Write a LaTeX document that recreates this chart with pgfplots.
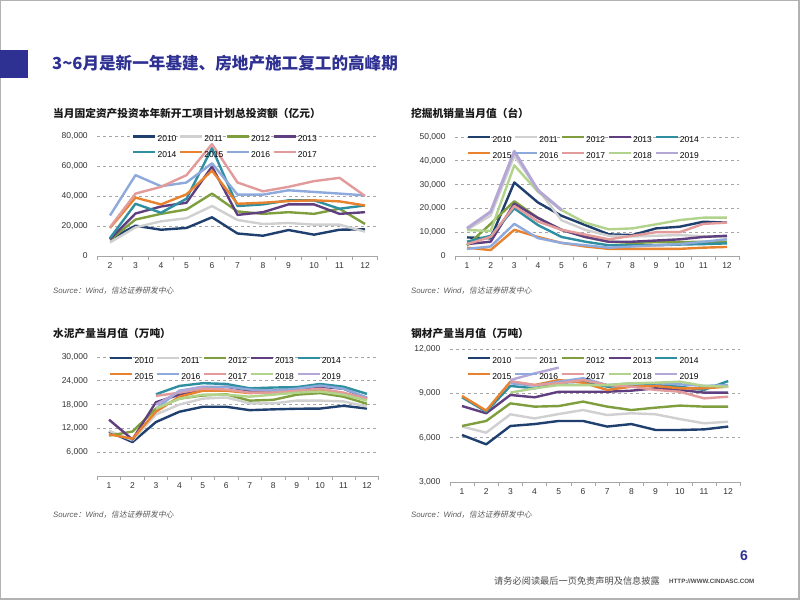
\documentclass[border=0pt]{standalone}
\usepackage{pgfplots}
\pgfplotsset{compat=1.18}
\usepackage{fontspec}
\setmainfont{Liberation Sans}
\newfontfamily\cjk{Noto Sans CJK SC}
\newfontfamily\cjkit{Noto Sans CJK SC}[FakeSlant=0.2]
\definecolor{titleblue}{HTML}{2E3192}
\definecolor{c2010}{HTML}{1F3F6E}
\definecolor{c2011}{HTML}{D0D0D0}
\definecolor{c2012}{HTML}{7F9F3F}
\definecolor{c2013}{HTML}{5F3F7F}
\definecolor{c2014}{HTML}{2F8FA0}
\definecolor{c2015}{HTML}{E8822E}
\definecolor{c2016}{HTML}{8EA9DB}
\definecolor{c2017}{HTML}{E39A9A}
\definecolor{c2018}{HTML}{B2D38B}
\definecolor{c2019}{HTML}{B4A7D6}
\pgfplotsset{
  slide/.style={
    scale only axis, anchor=north west,
    axis lines*=left,
    y axis line style={draw=none},
    x axis line style={draw=gray!70, line width=0.8pt},
    ymajorgrids, grid style={dashed, gray!70, line width=0.6pt},
    major tick length=0pt, minor tick length=4pt,
    tick align=outside,
    minor tick style={gray!70, line width=0.6pt},
    ticklabel style={font=\fontsize{8.5}{10}\selectfont, text=black!80},
    yticklabel style={xshift=-6pt},
    xticklabel style={yshift=-3pt},
    scaled y ticks=false,
    no markers,
    every axis plot/.append style={line width=2.4pt, line join=round},
    legend cell align=left,
    legend style={draw=none, fill=none, anchor=north west,
      font=\fontsize{8.5}{10}\selectfont, row sep=6pt,
      nodes={inner sep=1pt, text height=6.2pt, text depth=1.6pt},
      /tikz/every even column/.append style={column sep=1.5pt}},
    legend image code/.code={\draw[##1, line width=2.4pt] (0pt,3pt) -- (22pt,3pt);},
    /pgf/number format/assume math mode=true,
    /pgf/number format/1000 sep={,},
  }
}
\begin{document}
\begin{tikzpicture}[x=1pt,y=1pt]
\path[use as bounding box] (0,0) rectangle (802,602);
\fill[white] (0,0) rectangle (802,602);
\draw[gray!60, line width=1.2pt] (0.8,3) rectangle (799,601.2);
\fill[titleblue] (0,524) rectangle (28,552);
\node[anchor=west, inner sep=0pt, text=titleblue, font=\cjk\bfseries\fontsize{16.6}{18}\selectfont] at (52,539) {3\textasciitilde6月是新一年基建、房地产施工复工的高峰期};
\node[anchor=west, inner sep=0pt, text=black!90, font=\cjk\bfseries\fontsize{10.7}{12}\selectfont] at (53,489) {当月固定资产投资本年新开工项目计划总投资额（亿元）};
\node[anchor=west, inner sep=0pt, text=black!90, font=\cjk\bfseries\fontsize{10.7}{12}\selectfont] at (411,489) {挖掘机销量当月值（台）};
\node[anchor=west, inner sep=0pt, text=black!90, font=\cjk\bfseries\fontsize{10.7}{12}\selectfont] at (53,269) {水泥产量当月值（万吨）};
\node[anchor=west, inner sep=0pt, text=black!90, font=\cjk\bfseries\fontsize{10.7}{12}\selectfont] at (411,269) {钢材产量当月值（万吨）};
\foreach \p in {(53,311),(411,311),(53,87),(411,87)}{
\node[anchor=west, inner sep=0pt, text=black!65, font=\fontsize{7.8}{9}\selectfont] at \p {\itshape Source{\cjkit ：}Wind{\cjkit ，信达证券研发中心}};
}
\node[inner sep=0pt, text=titleblue, font=\bfseries\fontsize{14}{16}\selectfont] at (744,46) {6};
\node[anchor=west, inner sep=0pt, text=black!70, font=\cjk\fontsize{9.2}{11}\selectfont] at (494,21) {请务必阅读最后一页免责声明及信息披露};
\node[anchor=west, inner sep=0pt, text=black!70, font=\bfseries\fontsize{6.2}{7}\selectfont] at (669,21) {HTTP://WWW.CINDASC.COM};

% Chart 1
\begin{axis}[slide, at={(97.25pt,466pt)}, width=280.5pt, height=120pt,
  xmin=1.5, xmax=12.5, ymin=0, ymax=80000,
  xtick={2,...,12}, minor xtick={1.5,2.5,...,12.5},
  ytick={0,20000,...,80000},
  legend columns=4,
  legend style={at={(0.113,1.03)}}]
\addplot[c2010] coordinates {(2,11200)(3,20200)(4,17500)(5,18700)(6,25800)(7,15000)(8,13500)(9,17300)(10,14200)(11,17500)(12,17800)};
\addlegendentry{2010}
\addplot[c2011] coordinates {(2,9000)(3,19100)(4,23100)(5,25200)(6,33300)(7,24000)(8,21300)(9,22000)(10,20900)(11,20900)(12,16200)};
\addlegendentry{2011}
\addplot[c2012] coordinates {(2,10800)(3,24300)(4,28100)(5,31000)(6,41600)(7,29700)(8,28100)(9,29200)(10,28100)(11,31500)(12,21300)};
\addlegendentry{2012}
\addplot[c2013] coordinates {(2,11200)(3,28300)(4,33000)(5,35500)(6,59600)(7,27400)(8,29200)(9,34400)(10,34400)(11,28100)(12,29200)};
\addlegendentry{2013}
\addplot[c2014] coordinates {(2,11900)(3,34800)(4,28800)(5,38200)(6,71900)(7,33300)(8,34400)(9,37100)(10,37100)(11,31500)(12,33700)};
\addlegendentry{2014}
\addplot[c2015] coordinates {(2,18700)(3,38900)(4,34400)(5,41100)(6,56900)(7,34800)(8,35500)(9,36600)(10,37100)(11,36400)(12,33700)};
\addlegendentry{2015}
\addplot[c2016] coordinates {(2,27000)(3,53900)(4,46500)(5,49000)(6,61800)(7,40900)(8,40900)(9,43800)(10,42700)(11,41600)(12,40400)};
\addlegendentry{2016}
\addplot[c2017] coordinates {(2,19100)(3,41600)(4,46100)(5,53900)(6,74600)(7,49000)(8,43100)(9,46100)(10,49900)(11,52100)(12,40000)};
\addlegendentry{2017}
\end{axis}

% Chart 2
\begin{axis}[slide, at={(455.2pt,465pt)}, width=283.6pt, height=119pt,
  xmin=0.5, xmax=12.5, ymin=0, ymax=50000,
  xtick={1,...,12}, minor xtick={0.5,1.5,...,12.5},
  ytick={0,10000,...,50000},
  legend columns=5,
  legend style={at={(0.031,1.034)}}]
\addplot[c2010] coordinates {(1,7800)(2,7400)(3,30900)(4,22500)(5,16900)(6,13000)(7,9100)(8,8800)(9,11600)(10,12300)(11,14400)(12,14000)};
\addlegendentry{2010}
\addplot[c2011] coordinates {(1,11000)(2,17000)(3,42000)(4,28000)(5,15000)(6,11000)(7,8500)(8,8200)(9,8500)(10,8800)(11,8300)(12,7800)};
\addlegendentry{2011}
\addplot[c2012] coordinates {(1,4500)(2,13500)(3,23000)(4,16000)(5,11000)(6,8000)(7,6000)(8,5500)(9,5800)(10,5800)(11,6000)(12,6000)};
\addlegendentry{2012}
\addplot[c2013] coordinates {(1,5000)(2,6000)(3,22000)(4,16000)(5,11000)(6,8000)(7,6000)(8,6000)(9,6500)(10,7000)(11,8000)(12,8500)};
\addlegendentry{2013}
\addplot[c2014] coordinates {(1,6000)(2,8500)(3,20000)(4,13000)(5,8000)(6,6000)(7,4500)(8,4500)(9,4500)(10,4800)(11,5000)(12,5300)};
\addlegendentry{2014}
\addplot[c2015] coordinates {(1,3500)(2,2500)(3,11000)(4,8000)(5,5500)(6,4000)(7,3000)(8,3000)(9,3000)(10,3000)(11,3500)(12,3800)};
\addlegendentry{2015}
\addplot[c2016] coordinates {(1,3000)(2,4000)(3,13500)(4,7500)(5,5500)(6,4500)(7,3500)(8,4000)(9,4500)(10,5000)(11,6000)(12,7000)};
\addlegendentry{2016}
\addplot[c2017] coordinates {(1,5000)(2,8000)(3,21000)(4,14500)(5,11000)(6,9000)(7,7000)(8,8500)(9,10000)(10,10000)(11,13500)(12,14000)};
\addlegendentry{2017}
\addplot[c2018] coordinates {(1,10900)(2,10500)(3,38100)(4,27000)(5,19300)(6,14000)(7,11200)(8,11600)(9,13300)(10,15100)(11,16100)(12,16100)};
\addlegendentry{2018}
\addplot[c2019, line width=3pt] coordinates {(1,11600)(2,18600)(3,44000)(4,27600)(5,19300)};
\addlegendentry{2019}
\end{axis}

% Chart 3
\begin{axis}[slide, at={(97.3pt,245pt)}, width=281.4pt, height=119pt,
  xmin=0.5, xmax=12.5, ymin=0, ymax=30000,
  xtick={1,...,12}, minor xtick={0.5,1.5,...,12.5},
  ytick={6000,12000,...,30000},
  legend columns=5,
  legend style={at={(0.031,1.025)}}]
\addplot[c2010] coordinates {(1,11200)(2,8550)(3,13600)(4,16200)(5,17450)(6,17450)(7,16600)(8,16800)(9,16950)(10,17000)(11,17700)(12,17000)};
\addlegendentry{2010}
\addplot[c2011] coordinates {(1,11400)(2,9000)(3,15500)(4,18000)(5,19500)(6,19800)(7,18300)(8,18300)(9,19000)(10,19000)(11,18800)(12,17500)};
\addlegendentry{2011}
\addplot[c2012] coordinates {(1,10200)(2,11200)(3,17000)(4,19500)(5,20300)(6,20600)(7,19000)(8,19200)(9,20500)(10,20900)(11,20000)(12,18200)};
\addlegendentry{2012}
\addplot[c2013] coordinates {(1,14200)(2,9200)(3,18600)(4,20500)(5,22000)(6,22500)(7,21500)(8,21500)(9,22000)(10,22500)(11,22000)(12,19600)};
\addlegendentry{2013}
\addplot[c2014] coordinates {(3,20600)(4,22700)(5,23400)(6,23200)(7,22100)(8,22300)(9,22400)(10,23200)(11,22500)(12,20700)};
\addlegendentry{2014}
\addplot[c2015] coordinates {(1,10500)(2,9400)(3,16200)(4,20000)(5,21500)(6,21500)(7,20900)(8,21000)(9,21300)(10,21700)(11,20900)(12,19200)};
\addlegendentry{2015}
\addplot[c2016] coordinates {(3,17000)(4,21500)(5,22500)(6,22500)(7,21800)(8,21500)(9,22000)(10,22800)(11,22000)(12,19800)};
\addlegendentry{2016}
\addplot[c2017] coordinates {(3,20200)(4,21000)(5,22000)(6,21800)(7,21000)(8,21000)(9,21500)(10,22000)(11,21000)(12,19500)};
\addlegendentry{2017}
\addplot[c2018] coordinates {(3,17000)(4,19500)(5,20500)(6,20500)(7,20000)(8,20500)(9,21000)(10,21300)(11,20500)(12,19000)};
\addlegendentry{2018}
\addplot[c2019] coordinates {(3,18000)(4,21300)(5,22500)};
\addlegendentry{2019}
\end{axis}

% Chart 4
\begin{axis}[slide, at={(449.9pt,253pt)}, width=290.4pt, height=133pt,
  xmin=0.5, xmax=12.5, ymin=3000, ymax=12000,
  xtick={1,...,12}, minor xtick={0.5,1.5,...,12.5},
  ytick={3000,6000,...,12000},
  legend columns=5,
  legend style={at={(0.048,0.962)}}]
\addplot[c2010] coordinates {(1,6180)(2,5550)(3,6790)(4,6920)(5,7130)(6,7130)(7,6750)(8,6920)(9,6520)(10,6520)(11,6560)(12,6750)};
\addlegendentry{2010}
\addplot[c2011] coordinates {(1,6750)(2,6340)(3,7580)(4,7300)(5,7600)(6,7870)(7,7530)(8,7650)(9,7580)(10,7260)(11,6970)(12,7080)};
\addlegendentry{2011}
\addplot[c2012] coordinates {(1,6790)(2,7130)(3,8320)(4,8100)(5,8140)(6,8440)(7,8100)(8,7870)(9,8030)(10,8170)(11,8100)(12,8100)};
\addlegendentry{2012}
\addplot[c2013] coordinates {(1,8140)(2,7650)(3,8890)(4,8730)(5,9110)(6,9110)(7,9110)(8,9180)(9,9340)(10,9230)(11,9050)(12,9050)};
\addlegendentry{2013}
\addplot[c2014] coordinates {(1,8730)(2,7760)(3,9500)(4,9340)(5,9720)(6,9790)(7,9450)(8,9500)(9,9560)(10,9450)(11,9230)(12,9830)};
\addlegendentry{2014}
\addplot[c2015] coordinates {(1,8820)(2,7830)(3,9790)(4,9560)(5,9900)(6,9720)(7,9230)(8,9450)(9,9500)(10,9340)(11,9340)(12,9450)};
\addlegendentry{2015}
\addplot[c2016] coordinates {(3,9680)(4,9520)(5,9790)(6,10020)(7,9560)(8,9680)(9,9680)(10,9610)(11,9500)(12,9560)};
\addlegendentry{2016}
\addplot[c2017] coordinates {(3,9830)(4,9560)(5,9680)(6,9900)(7,9560)(8,9450)(9,9230)(10,9110)(11,8660)(12,8770)};
\addlegendentry{2017}
\addplot[c2018] coordinates {(3,9050)(4,9340)(5,9560)(6,9560)(7,9560)(8,9680)(9,9720)(10,9790)(11,9500)(12,9450)};
\addlegendentry{2018}
\addplot[c2019] coordinates {(3,9900)(4,10350)(5,10740)};
\addlegendentry{2019}
\end{axis}
\end{tikzpicture}
\end{document}
